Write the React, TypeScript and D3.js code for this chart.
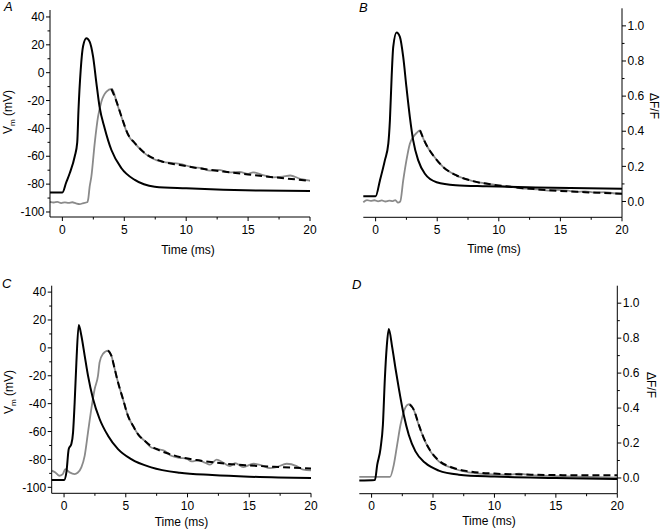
import React from "react";
import * as d3 from "d3";

// ---------- axis ticks ----------
const TIME_TICKS = [0, 5, 10, 15, 20];
const TIME_MINOR = [2.5, 7.5, 12.5, 17.5];
const VM_TICKS = [-100, -80, -60, -40, -20, 0, 20, 40];
const VM_MINOR = [-90, -70, -50, -30, -10, 10, 30];
const DFF_TICKS = [0, 0.2, 0.4, 0.6, 0.8, 1.0];
const DFF_MINOR = [0.1, 0.3, 0.5, 0.7, 0.9];

// ---------- Panel A (mV) ----------
const A_AP_T = [-1, 0, 0.3, 0.6, 1.0, 1.2, 1.3, 1.48, 1.67, 1.94, 2.2, 2.48, 2.75, 3.0, 3.42, 3.96, 4.77, 5.85, 7.46, 10, 13, 16, 20];
const A_AP_V = [-86, -86, -79, -72, -60, -50, -27, 2, 19, 24.7, 22.3, 11.5, -7.6, -24.4, -40, -55.5, -68.6, -77, -81.8, -83, -84, -84.6, -85];
const A_FL_T = [-1, -0.7, -0.4, -0.1, 0.2, 0.5, 0.8, 1.1, 1.4, 1.7, 2.0, 2.1, 2.2, 2.34, 2.61, 2.88, 3.15, 3.56, 3.96, 4.1, 4.37, 4.77, 5.3, 5.85, 6.65, 8.0, 9.48, 10.56, 11.3, 11.9, 12.6, 13.5, 14.3, 15.0, 15.4, 16.2, 17.0, 17.8, 18.4, 19.2, 20];
const A_FL_V = [-92.7, -93.2, -92.8, -93.6, -93.1, -93.5, -93.0, -93.8, -94.3, -93.6, -93.0, -90, -82, -74.7, -50.7, -31.6, -20.8, -13.6, -11.7, -13, -20.8, -31.6, -44.7, -50.7, -57.9, -63.9, -65.5, -67.9, -68.6, -70.3, -69.8, -71.6, -71.2, -72.6, -71.5, -73.5, -75.1, -74.6, -73.8, -76.2, -77.5];
const A_FIT_T = [3.96, 4.37, 4.77, 5.3, 5.85, 6.65, 8, 9.5, 11, 13, 15, 17, 20];
const A_FIT_V = [-11.7, -20.6, -31.4, -44.2, -50.5, -57.6, -63.6, -66.3, -68.6, -71, -73.1, -75, -77.6];

// ---------- Panel B (ΔF/F) ----------
const B_AP_T = [-1, 0, 0.35, 0.75, 1.03, 1.16, 1.3, 1.43, 1.7, 1.97, 2.24, 2.5, 2.78, 3.05, 3.46, 4.0, 4.95, 6.5, 9, 13, 20];
const B_AP_V = [0.03, 0.03, 0.12, 0.234, 0.329, 0.462, 0.709, 0.88, 0.962, 0.937, 0.823, 0.652, 0.481, 0.348, 0.234, 0.158, 0.11, 0.093, 0.087, 0.08, 0.072];
const B_FL_T = [-1, -0.7, -0.4, -0.1, 0.2, 0.5, 0.8, 1.1, 1.4, 1.6, 1.8, 2.0, 2.24, 2.5, 2.78, 3.05, 3.32, 3.6, 3.87, 4.14, 4.68, 5.49, 6.57, 7.9, 9.5, 10.3, 11.0, 11.8, 12.5, 13.2, 14.0, 14.8, 15.5, 16.3, 17.0, 17.8, 18.6, 19.3, 20];
const B_FL_V = [-0.004, 0.008, 0.003, 0.007, 0.001, 0.006, 0.0, 0.005, 0.002, 0.008, -0.006, 0.0, 0.12, 0.234, 0.329, 0.367, 0.39, 0.405, 0.358, 0.319, 0.262, 0.196, 0.148, 0.116, 0.097, 0.088, 0.084, 0.075, 0.072, 0.069, 0.062, 0.066, 0.063, 0.055, 0.058, 0.051, 0.053, 0.047, 0.045];
const B_FIT_T = [3.6, 3.87, 4.14, 4.68, 5.49, 6.57, 7.9, 9.5, 11, 13, 15, 17, 20];
const B_FIT_V = [0.405, 0.36, 0.32, 0.262, 0.196, 0.148, 0.116, 0.096, 0.083, 0.07, 0.06, 0.053, 0.044];

// ---------- Panel C (mV) ----------
const C_AP_T = [-1, 0, 0.19, 0.38, 0.59, 0.73, 0.86, 1.0, 1.19, 1.4, 1.67, 1.94, 2.35, 2.88, 3.56, 4.37, 5.44, 7.06, 9.38, 12, 15, 20];
const C_AP_V = [-94.8, -94.8, -89.3, -72.6, -69, -60.6, -39, -10.3, 16.5, 8.9, -5.5, -19.9, -36.6, -51, -63, -72.6, -79.8, -85.7, -89.6, -91.2, -92.4, -93.4];
const C_FL_T = [-1, -0.7, -0.4, -0.1, 0.1, 0.45, 0.86, 1.1, 1.4, 1.67, 1.94, 2.21, 2.48, 2.75, 2.88, 3.15, 3.56, 3.83, 4.1, 4.37, 4.77, 5.17, 5.58, 5.98, 6.52, 7.06, 7.6, 8.14, 8.68, 9.38, 9.92, 10.33, 10.87, 11.41, 11.82, 12.36, 12.9, 13.44, 13.85, 14.52, 15.33, 16.0, 16.68, 17.22, 18.03, 18.84, 19.38, 20];
const C_FL_V = [-88, -89.3, -91.7, -90.5, -87, -89.3, -90.5, -89.6, -85.7, -77.4, -60.6, -43.8, -29.5, -19.9, -10.3, -4.3, -1.9, -5.5, -15, -24.7, -36.6, -48.6, -55.8, -61.8, -66.6, -71.4, -72.6, -73.8, -77.4, -78.9, -79.5, -81.4, -80.6, -82.4, -83.8, -80.2, -82.4, -84.8, -82.6, -85.5, -83.1, -84.3, -86.2, -85.5, -83.1, -84.8, -87.4, -87.9];
const C_FIT_T = [3.56, 3.83, 4.1, 4.37, 4.77, 5.17, 5.58, 5.98, 6.52, 7.06, 7.6, 8.5, 9.5, 11, 13, 15, 17, 20];
const C_FIT_V = [-1.9, -5.5, -15, -24.7, -36.6, -48.6, -55.8, -61.8, -66.6, -70.5, -73, -76, -78.5, -80.8, -83, -84.3, -85.3, -86.5];

// ---------- Panel D (ΔF/F) ----------
const D_AP_T = [-1, 0.27, 0.46, 0.73, 0.92, 1.08, 1.24, 1.4, 1.68, 1.95, 2.22, 2.62, 3.03, 3.57, 4.38, 5.47, 7.09, 10, 15, 20];
const D_AP_V = [-0.015, -0.012, 0.076, 0.17, 0.303, 0.568, 0.757, 0.852, 0.747, 0.625, 0.511, 0.36, 0.246, 0.152, 0.085, 0.042, 0.019, 0.008, 0.0, -0.006];
const D_FL_T = [-1, 1.5, 1.81, 2.08, 2.35, 2.62, 2.9, 3.1, 3.44, 3.84, 4.25, 4.79, 5.47, 6.55, 7.9, 10, 11, 12, 12.5, 13.5, 15, 17, 20];
const D_FL_V = [0.006, 0.006, 0.076, 0.189, 0.303, 0.379, 0.417, 0.422, 0.388, 0.303, 0.227, 0.152, 0.095, 0.057, 0.032, 0.02, 0.018, 0.024, 0.021, 0.014, 0.011, 0.007, 0.002];
const D_FIT_T = [3.1, 3.44, 3.84, 4.25, 4.79, 5.47, 6.55, 7.9, 10, 13, 16, 20];
const D_FIT_V = [0.42, 0.39, 0.305, 0.228, 0.155, 0.1, 0.06, 0.038, 0.025, 0.019, 0.016, 0.015];

const FONT = "'Liberation Sans', Arial, sans-serif";
const GRAY = "#8a8a8a";
const FS = 12;

type Panel = {
  letter: string;
  left: number; right: number; top: number; bottom: number;
  side: "left" | "right";
  yDomain: [number, number];
  yTicks: number[]; yMinor: number[];
  fmt: (d: number) => string;
  letterPos: [number, number];
  xLabelX: number;
  xLabelY: number;
  yLabelX: number;
  yLabelY: number;
  ap: [number[], number[]];
  fl: [number[], number[]];
  fit: [number[], number[]];
};

const PANELS: Panel[] = [
  { letter: "A", left: 50, right: 310, top: 10, bottom: 217, side: "left", yDomain: [-103.6, 45], yTicks: VM_TICKS, yMinor: VM_MINOR, fmt: (d) => String(d), letterPos: [4, 11], xLabelX: 188, xLabelY: 253.5, yLabelX: 12, yLabelY: 112, ap: [A_AP_T, A_AP_V], fl: [A_FL_T, A_FL_V], fit: [A_FIT_T, A_FIT_V] },
  { letter: "B", left: 363.3, right: 622, top: 8.3, bottom: 217.3, side: "right", yDomain: [-0.09, 1.1], yTicks: DFF_TICKS, yMinor: DFF_MINOR, fmt: (d) => d.toFixed(1), letterPos: [359, 12], xLabelX: 494, xLabelY: 253, yLabelX: 650, yLabelY: 106, ap: [B_AP_T, B_AP_V], fl: [B_FL_T, B_FL_V], fit: [B_FIT_T, B_FIT_V] },
  { letter: "C", left: 51.7, right: 311, top: 285.7, bottom: 493.3, side: "left", yDomain: [-104.3, 44.6], yTicks: VM_TICKS, yMinor: VM_MINOR, fmt: (d) => String(d), letterPos: [2, 288], xLabelX: 181.5, xLabelY: 526, yLabelX: 13, yLabelY: 392, ap: [C_AP_T, C_AP_V], fl: [C_FL_T, C_FL_V], fit: [C_FIT_T, C_FIT_V] },
  { letter: "D", left: 359.3, right: 617.3, top: 285.7, bottom: 493.7, side: "right", yDomain: [-0.09, 1.1], yTicks: DFF_TICKS, yMinor: DFF_MINOR, fmt: (d) => d.toFixed(1), letterPos: [352, 289], xLabelX: 489, xLabelY: 525, yLabelX: 647, yLabelY: 385, ap: [D_AP_T, D_AP_V], fl: [D_FL_T, D_FL_V], fit: [D_FIT_T, D_FIT_V] },
];

function PanelView({ p }: { p: Panel }) {
  const x = d3.scaleLinear().domain([-1, 20]).range([p.left, p.right]);
  const y = d3.scaleLinear().domain(p.yDomain).range([p.bottom, p.top]);
  const mk = (ts: number[], vs: number[]) =>
    d3.line<number>().x((_, i) => x(ts[i])).y((v) => y(v)).curve(d3.curveMonotoneX)(vs) || "";
  const ax = p.side === "left" ? p.left : p.right;
  const dir = p.side === "left" ? -1 : 1;
  return (
    <g>
      <path d={mk(p.fl[0], p.fl[1])} fill="none" stroke={GRAY} strokeWidth={1.8} />
      <path d={mk(p.fit[0], p.fit[1])} fill="none" stroke="#000" strokeWidth={2} strokeDasharray="7 4" />
      <path d={mk(p.ap[0], p.ap[1])} fill="none" stroke="#000" strokeWidth={2} />
      {/* x axis */}
      <line x1={p.left} x2={p.right} y1={p.bottom} y2={p.bottom} stroke="#000" strokeWidth={1} />
      {TIME_TICKS.map((t) => (
        <g key={"xt" + t}>
          <line x1={x(t)} x2={x(t)} y1={p.bottom} y2={p.bottom + 4} stroke="#000" />
          <text x={x(t)} y={p.bottom + 16.5} textAnchor="middle" fontSize={FS} fontFamily={FONT}>{t}</text>
        </g>
      ))}
      {TIME_MINOR.map((t) => (
        <line key={"xm" + t} x1={x(t)} x2={x(t)} y1={p.bottom} y2={p.bottom + 2.5} stroke="#000" />
      ))}
      <text x={p.xLabelX} y={p.xLabelY} textAnchor="middle" fontSize={FS} fontFamily={FONT}>Time (ms)</text>
      {/* y axis */}
      <line x1={ax} x2={ax} y1={p.top} y2={p.bottom} stroke="#000" strokeWidth={1} />
      {p.yTicks.map((v) => (
        <g key={"yt" + v}>
          <line x1={ax} x2={ax + dir * 4} y1={y(v)} y2={y(v)} stroke="#000" />
          <text x={ax + dir * 5.5} y={y(v) + 4.2} textAnchor={p.side === "left" ? "end" : "start"} fontSize={FS} fontFamily={FONT}>{p.fmt(v)}</text>
        </g>
      ))}
      {p.yMinor.map((v) => (
        <line key={"ym" + v} x1={ax} x2={ax + dir * 2.5} y1={y(v)} y2={y(v)} stroke="#000" />
      ))}
      {p.side === "left" ? (
        <text transform={`translate(${p.yLabelX},${p.yLabelY}) rotate(-90)`} textAnchor="middle" fontSize={FS} fontFamily={FONT}>
          V<tspan fontSize={8} dy={3}>m</tspan><tspan dy={-3}> (mV)</tspan>
        </text>
      ) : (
        <text transform={`translate(${p.yLabelX},${p.yLabelY}) rotate(90)`} textAnchor="middle" fontSize={FS} fontFamily={FONT}>ΔF/F</text>
      )}
      <text x={p.letterPos[0]} y={p.letterPos[1]} fontSize={13} fontStyle="italic" fontFamily={FONT}>{p.letter}</text>
    </g>
  );
}

export default function App() {
  return (
    <svg width={661} height={531} style={{ position: "absolute", left: 0, top: 0, background: "#fff" }}>
      <rect width={661} height={531} fill="#fff" />
      {PANELS.map((p) => (
        <PanelView key={p.letter} p={p} />
      ))}
    </svg>
  );
}
